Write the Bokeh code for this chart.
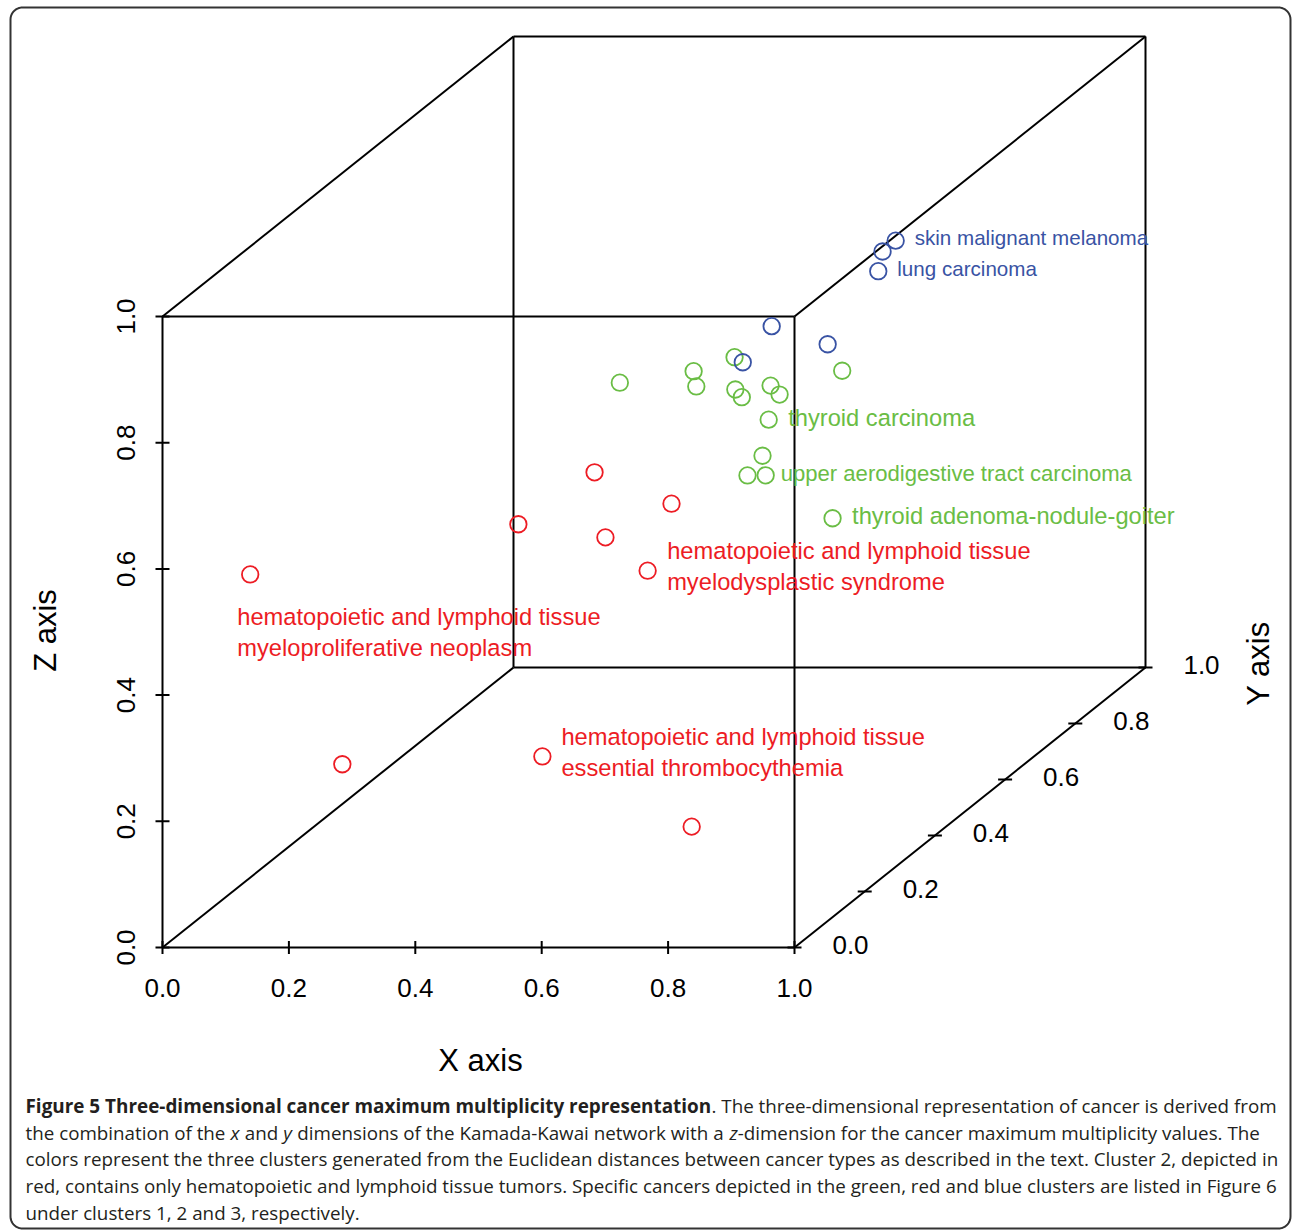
import numpy as np
from bokeh.plotting import figure
from bokeh.models import Range1d, ColumnDataSource
from bokeh.core.properties import value
from bokeh.embed import file_html
from bokeh.resources import INLINE

# ---------------- data (x, y, z in the unit cube) ----------------
# cluster 3 (blue)
blue_x = [0.688, 0.695, 0.716, 0.714, 0.747, 0.696]
blue_y = [0.85, 0.80, 0.75, 0.45, 0.55, 0.40]
blue_z = [0.743, 0.748, 0.739, 0.785, 0.712, 0.750]
# cluster 1 (green)
green_x = [0.557, 0.646, 0.678, 0.683, 0.712, 0.750, 0.740, 0.782, 0.770, 0.737, 0.755, 0.759, 0.760, 0.727]
green_y = [0.30, 0.35, 0.30, 0.40, 0.35, 0.30, 0.40, 0.35, 0.55, 0.40, 0.35, 0.30, 0.35, 0.60]
green_z = [0.762, 0.758, 0.756, 0.758, 0.729, 0.739, 0.713, 0.721, 0.670, 0.659, 0.624, 0.615, 0.593, 0.414]
# cluster 2 (red)
red_x = [0.517, 0.611, 0.452, 0.562, 0.601, 0.111, 0.229, 0.490, 0.754]
red_y = [0.30, 0.35, 0.20, 0.25, 0.30, 0.05, 0.10, 0.20, 0.15]
red_z = [0.620, 0.548, 0.582, 0.539, 0.464, 0.569, 0.246, 0.214, 0.125]

# labelled cancers: (cluster, point index, name)
label_cluster = ["blue", "blue", "green", "green", "green", "red", "red", "red"]
label_index = [0, 2, 9, 12, 13, 4, 7, 5]
label_names = [
    "skin malignant melanoma",
    "lung carcinoma",
    "thyroid carcinoma",
    "upper aerodigestive tract carcinoma",
    "thyroid adenoma-nodule-goiter",
    "hematopoietic and lymphoid tissue\nmyelodysplastic syndrome",
    "hematopoietic and lymphoid tissue\nessential thrombocythemia",
    "hematopoietic and lymphoid tissue\nmyeloproliferative neoplasm",
]

ticks = [0.0, 0.2, 0.4, 0.6, 0.8, 1.0]
tick_labels = ["0.0", "0.2", "0.4", "0.6", "0.8", "1.0"]
axis_titles = ["X axis", "Y axis", "Z axis"]

caption_bold = "Figure 5 Three-dimensional cancer maximum multiplicity representation"
caption_l1 = ". The three-dimensional representation of cancer is derived from"
caption_l2 = ["the combination of the", "x", "and", "y",
              "dimensions of the Kamada-Kawai network with a", "z",
              "-dimension for the cancer maximum multiplicity values. The"]
caption_l3 = "colors represent the three clusters generated from the Euclidean distances between cancer types as described in the text. Cluster 2, depicted in"
caption_l4 = "red, contains only hematopoietic and lymphoid tissue tumors. Specific cancers depicted in the green, red and blue clusters are listed in Figure 6"
caption_l5 = "under clusters 1, 2 and 3, respectively."

# ---------------- styles ----------------
COLORS = {"red": "#ed1c24", "green": "#6abd45", "blue": "#3953a4"}
AX_FONT = value("Liberation Sans")
CAP_FONT = value("Open Sans")
CAP_COLOR = "#231f20"

# oblique projection of the 3-D box (y axis recedes up and to the right)
KX = 351 / 632
KZ = 280 / 631
PX = 1 / 632   # one screen pixel in x units
PZ = 1 / 631   # one screen pixel in z units


def proj(x, y, z):
    x = np.asarray(x, float)
    y = np.asarray(y, float)
    z = np.asarray(z, float)
    return x + KX * y, z + KZ * y


W, H = 1292, 1231


def sx(px):
    return (px - 162) * PX


def sy(py):
    return (947 - py) * PZ


p = figure(width=W, height=H, output_backend="svg", toolbar_location=None,
           x_range=Range1d(sx(0), sx(W)), y_range=Range1d(sy(H), sy(0)),
           x_axis_location=None, y_axis_location=None, min_border=0,
           outline_line_color=None, background_fill_color="white",
           border_fill_color="white")
p.xgrid.grid_line_color = None
p.ygrid.grid_line_color = None

# ---- rounded border around figure + caption ----
L, T, R, B, RAD = 10, 7, 1290, 1228, 12
pts = []
for cx, cy, a0 in [(R - RAD, T + RAD, -90), (R - RAD, B - RAD, 0), (L + RAD, B - RAD, 90), (L + RAD, T + RAD, 180)]:
    for a in np.linspace(a0, a0 + 90, 12):
        pts.append((cx + RAD * np.cos(np.radians(a)), cy + RAD * np.sin(np.radians(a))))
pts.append(pts[0])
p.line([sx(a) for a, b in pts], [sy(b) for a, b in pts], line_color="#333333", line_width=2)

# ---- box ----
corners = [(a, b, c) for a in (0, 1) for b in (0, 1) for c in (0, 1)]
edges = [(c1, c2) for i, c1 in enumerate(corners) for c2 in corners[i + 1:]
         if sum(abs(u - v) for u, v in zip(c1, c2)) == 1]
ex0, ez0 = proj([e[0][0] for e in edges], [e[0][1] for e in edges], [e[0][2] for e in edges])
ex1, ez1 = proj([e[1][0] for e in edges], [e[1][1] for e in edges], [e[1][2] for e in edges])
p.segment(ex0, ez0, ex1, ez1, line_color="black", line_width=2)

zeros = np.zeros(len(ticks))
ones = np.ones(len(ticks))
tick_kw = dict(text_font=AX_FONT, text_font_size="26px", text_color="black",
               text_align="center", text_baseline="middle")

# x axis (front bottom edge)
tx, tz = proj(ticks, zeros, zeros)
p.scatter(tx, tz, marker="dash", size=13, angle=np.pi / 2, line_color="black", line_width=2)
p.text(tx, tz - 40 * PZ, text=tick_labels, **tick_kw)

# z axis (front left edge)
tx, tz = proj(zeros, zeros, ticks)
p.scatter(tx, tz, marker="dash", size=14, line_color="black", line_width=2)
p.text(tx - 37 * PX, tz, text=tick_labels, angle=np.pi / 2, **tick_kw)

# y axis (bottom right receding edge)
tx, tz = proj(ones, ticks, zeros)
p.scatter(tx, tz, marker="dash", size=14, line_color="black", line_width=2)
p.text(tx + 56 * PX, tz + 3 * PZ, text=tick_labels, **tick_kw)

title_kw = dict(text_font=AX_FONT, text_font_size="31px", text_color="black",
                text_align="center", text_baseline="middle")
p.text([sx(480)], [sy(1060)], text=[axis_titles[0]], **title_kw)
p.text([sx(1258)], [sy(663)], text=[axis_titles[1]], angle=np.pi / 2, **title_kw)
p.text([sx(45)], [sy(630)], text=[axis_titles[2]], angle=np.pi / 2, **title_kw)

# ---- points ----
clusters = {"blue": (blue_x, blue_y, blue_z),
            "green": (green_x, green_y, green_z),
            "red": (red_x, red_y, red_z)}
proj_pts = {}
for name in ["red", "green", "blue"]:
    cx, cy, cz = clusters[name]
    px_, pz_ = proj(cx, cy, cz)
    proj_pts[name] = (px_, pz_)
    p.scatter(px_, pz_, marker="circle", size=16.5, fill_color=None,
              line_color=COLORS[name], line_width=1.8)

# ---- point labels ----
# screen-pixel offsets (dx right, dy down) of each text line from its point
label_dx = [19, 19, 19.5, 15, 19.5, 19.5, 19, -13]
label_dy = [[-3], [-3], [-2], [-2], [-2], [-20, 11], [-19, 12], [43, 74]]
label_size = ["20.6px", "20.6px", "23.7px", "22.1px", "23.7px", "23.7px", "23.7px", "23.7px"]
lx, lz, lt, lc, ls = [], [], [], [], []
for cl, idx, name, dx, dys, fs in zip(label_cluster, label_index, label_names,
                                      label_dx, label_dy, label_size):
    X, Z = proj_pts[cl][0][idx], proj_pts[cl][1][idx]
    for line, dy in zip(name.split("\n"), dys):
        lx.append(X + dx * PX)
        lz.append(Z - dy * PZ)
        lt.append(line)
        lc.append(COLORS[cl])
        ls.append(fs)
lab_src = ColumnDataSource(dict(x=lx, y=lz, text=lt, color=lc, size=ls))
p.text("x", "y", text="text", source=lab_src, text_color="color", text_font_size="size",
       text_font=AX_FONT, text_align="left", text_baseline="middle")

# ---- caption ----
base = [1105, 1132, 1158.5, 1185, 1212]
cap_kw = dict(text_font=CAP_FONT, text_color=CAP_COLOR, text_align="left",
              text_baseline="alphabetic")
p.text([sx(25)], [sy(base[0])], text=[caption_bold], text_font_size="18.9px",
       text_font_style="bold", **cap_kw)
reg_x = [711, 25, 244.3, 296.8, 737.2, 25, 25, 25]
reg_y = [base[0], base[1], base[1], base[1], base[1], base[2], base[3], base[4]]
reg_t = [caption_l1, caption_l2[0], caption_l2[2], caption_l2[4], caption_l2[6],
         caption_l3, caption_l4, caption_l5]
p.text([sx(v) for v in reg_x], [sy(v) for v in reg_y], text=reg_t,
       text_font_size="18.8px", **cap_kw)
it_x = [230.1, 282.7, 728.9]
p.text([sx(v) for v in it_x], [sy(base[1])] * 3,
       text=[caption_l2[1], caption_l2[3], caption_l2[5]],
       text_font_size="18.8px", text_font_style="italic", **cap_kw)

open("out.html", "w").write(file_html(p, INLINE))
